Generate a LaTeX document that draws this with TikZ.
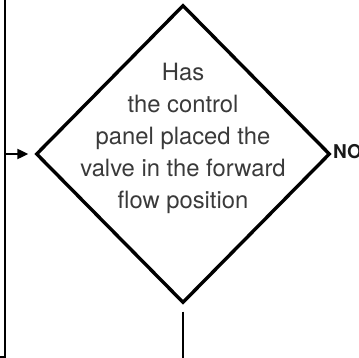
\documentclass[tikz,border=0pt]{standalone}
\usepackage{fontspec}
\setmainfont{TeX Gyre Heros}
\usetikzlibrary{shapes.geometric,arrows.meta}
\definecolor{txtgray}{HTML}{3A3A3A}
\tikzset{
  decision/.style={diamond, draw=black, line width=3.4pt, inner sep=0pt,
    minimum width=294pt, minimum height=298pt, miter limit=10},
  decisiontext/.style={align=center, inner sep=0pt, text=txtgray,
    font=\fontsize{23.8pt}{32pt}\selectfont},
  flowline/.style={draw=black, line width=2.2pt},
  arrowline/.style={flowline, -{Triangle[length=11pt,width=10pt]}},
  answer/.style={font=\fontsize{19pt}{22pt}\selectfont\bfseries, inner sep=0pt, anchor=west, text=black!90}
}
\begin{document}
\begin{tikzpicture}[x=1pt,y=-1pt]
  \useasboundingbox (0,0) rectangle (359,358);
  \node[decision] (d) at (183,154) {};
  \node[decisiontext] (t) at (183,138) {Has\\the control\\panel placed the\\valve in the forward\\flow position};
  \node[answer] (no) at (333,152) {NO};
  \coordinate (ltop) at (5,-2);
  \coordinate (lbot) at (5,357);
  \coordinate (lend) at (-2,357);
  \coordinate (lmid) at (5,154);
  \draw[flowline] (ltop) -- (lbot) -- (lend);
  \draw[arrowline, shorten >=6pt] (lmid) -- (d.west);
  \coordinate (bstart) at ([yshift=-7pt]d.south);
  \coordinate (bend) at (181,360);
  \draw[flowline] (bstart) -- (bstart |- bend);
\end{tikzpicture}
\end{document}
